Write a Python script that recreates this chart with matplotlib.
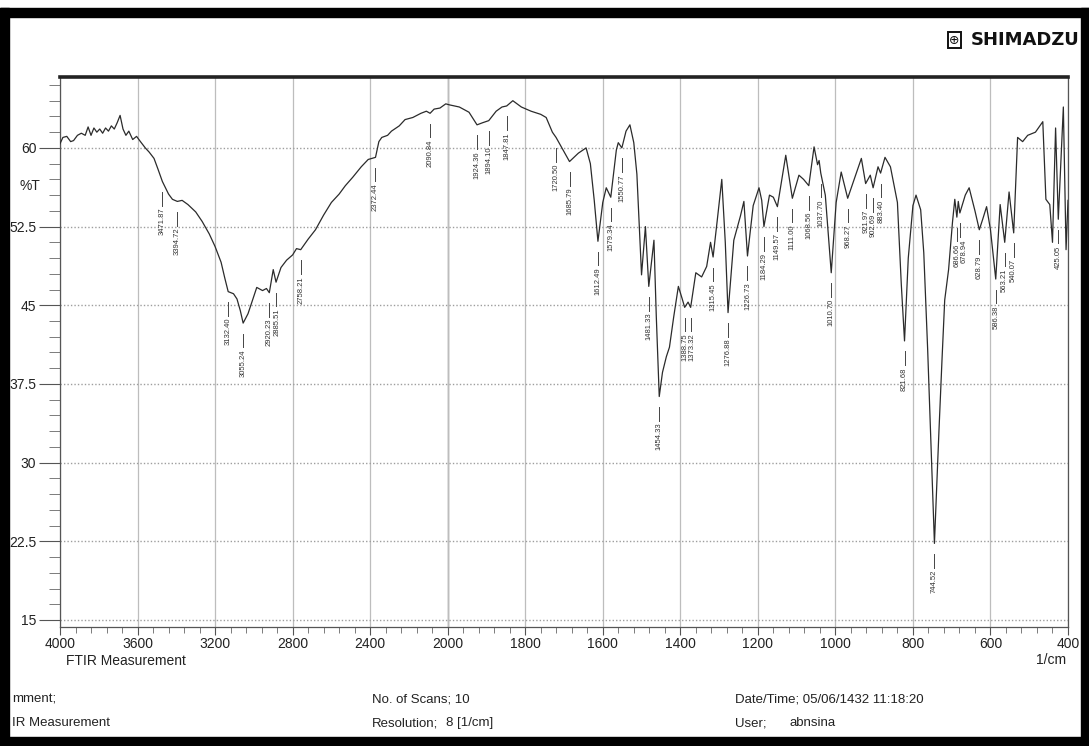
import numpy as np
import matplotlib
matplotlib.use("Agg")
import matplotlib.pyplot as plt
from matplotlib.patches import Rectangle

plt.rcParams["font.family"] = ["Liberation Sans", "DejaVu Sans"]

# spectrum (1/cm, %T)
wavenumber = [4000, 3985, 3965, 3945, 3930, 3910, 3890, 3870, 3855, 3840, 3825, 3810,
              3795, 3780, 3765, 3750, 3735, 3720, 3705, 3690, 3675, 3660, 3645, 3625,
              3605, 3585, 3560, 3540, 3515, 3495, 3471.87, 3440, 3420, 3394.72, 3370,
              3340, 3300, 3267, 3230, 3200, 3169, 3150, 3132.40, 3105, 3087, 3070,
              3055.24, 3030, 3010, 2985, 2955, 2935, 2920.23, 2900, 2885.51, 2860, 2831,
              2800, 2780, 2758.21, 2720, 2682, 2640, 2600, 2560, 2528, 2490, 2446, 2410,
              2372.44, 2355, 2340, 2310, 2290, 2250, 2220, 2180, 2138, 2110, 2090.84,
              2070, 2040, 2010, 1995, 1970, 1945, 1924.36, 1910, 1894.10, 1875, 1860,
              1847.81, 1832, 1810, 1785, 1760, 1746, 1730, 1720.50, 1707, 1695, 1685.79,
              1663, 1643, 1632, 1622, 1612.49, 1600, 1591, 1579.34, 1565, 1560, 1550.77,
              1540, 1530, 1520, 1512, 1500, 1490, 1481.33, 1468, 1462, 1454.33, 1446,
              1436, 1428, 1417, 1405, 1395, 1388.75, 1380, 1373.32, 1360, 1345, 1332,
              1322, 1315.45, 1305, 1293, 1284, 1276.88, 1262, 1245, 1236, 1226.73, 1212,
              1197, 1190, 1184.29, 1170, 1160, 1149.57, 1128, 1111.00, 1094, 1082,
              1068.56, 1055, 1046, 1042, 1037.70, 1026, 1010.70, 998, 985, 968.27, 933,
              921.97, 910, 902.69, 890, 883.40, 872, 858, 840, 830, 821.68, 812, 800,
              792, 780, 772, 762, 744.52, 733, 725, 718, 708, 698, 692, 686.66, 683,
              678.94, 665, 655, 640, 628.79, 620, 610, 600, 586.38, 575, 563.21, 552,
              540.07, 530, 517, 504, 484, 465, 457, 447, 440, 432, 425.05, 412, 405, 400]
transmittance = [60.4, 61.0, 61.1, 60.6, 60.7, 61.2, 61.4, 61.2, 62.0, 61.2, 61.9, 61.5,
                 61.8, 61.4, 61.9, 61.6, 62.1, 61.8, 62.4, 63.1, 61.8, 61.2, 61.6, 60.8,
                 61.1, 60.6, 60.0, 59.6, 59.0, 58.0, 56.8, 55.6, 55.1, 54.9, 55.0,
                 54.6, 53.9, 53.0, 51.8, 50.6, 49.1, 47.6, 46.3, 46.1, 45.6, 44.5,
                 43.3, 44.2, 45.3, 46.7, 46.4, 46.6, 46.2, 48.4, 47.2, 48.6, 49.3,
                 49.8, 50.4, 50.3, 51.3, 52.2, 53.6, 54.8, 55.6, 56.4, 57.2, 58.2, 58.9,
                 59.1, 60.6, 61.0, 61.2, 61.6, 62.1, 62.7, 62.9, 63.3, 63.5, 63.3,
                 63.7, 63.8, 64.2, 64.1, 63.9, 63.4, 62.2, 62.4, 62.6, 63.5, 63.9,
                 64.0, 64.5, 63.9, 63.5, 63.2, 62.9, 61.5, 61.0, 60.1, 59.3, 58.7,
                 59.5, 60.0, 58.5, 55.0, 51.1, 54.8, 56.2, 55.3, 59.8, 60.5, 60.0,
                 61.6, 62.2, 60.5, 57.5, 47.9, 52.5, 46.8, 51.2, 44.0, 36.3, 38.6,
                 40.1, 41.0, 43.9, 46.8, 45.6, 44.8, 45.3, 44.8, 48.1, 47.7, 48.7,
                 51.0, 49.6, 53.0, 57.0, 51.0, 44.3, 51.2, 53.5, 54.9, 49.7, 54.5,
                 56.2, 55.0, 52.5, 55.5, 55.3, 54.4, 59.3, 55.2, 57.4, 57.0,
                 56.4, 60.1, 58.4, 58.8, 57.6, 55.5, 48.1, 54.8, 57.7, 55.2, 59.0,
                 56.6, 57.4, 56.2, 58.2, 57.6, 59.1, 58.2, 54.8, 47.0, 41.6, 49.5, 54.5,
                 55.5, 54.1, 50.0, 40.8, 22.3, 32.9, 39.8, 45.5, 48.4, 52.9, 55.1, 53.4, 54.9,
                 53.8, 55.5, 56.2, 54.0, 52.2, 53.2, 54.4, 52.2, 47.5, 54.6, 51.0, 55.8,
                 51.9, 61.0, 60.6, 61.2, 61.5, 62.5, 55.1, 54.6, 51.0, 61.9, 53.2, 63.9, 50.3, 55.0]

peaks = [3471.87, 3394.72, 3132.40, 3055.24, 2920.23, 2885.51, 2758.21, 2372.44, 2090.84,
         1924.36, 1894.10, 1847.81, 1720.50, 1685.79, 1612.49, 1579.34, 1550.77, 1481.33,
         1454.33, 1388.75, 1373.32, 1315.45, 1276.88, 1226.73, 1184.29, 1149.57, 1111.00,
         1068.56, 1037.70, 1010.70, 968.27, 921.97, 902.69, 883.40, 821.68, 744.52,
         686.66, 678.94, 628.79, 586.38, 563.21, 540.07, 425.05]

x_major = [4000, 3600, 3200, 2800, 2400, 2000, 1800, 1600, 1400, 1200, 1000, 800, 600, 400]
y_major = [15, 22.5, 30, 37.5, 45, 52.5, 60]
y_labels = ["15", "22.5", "30", "37.5", "45", "52.5", "60"]


def fwd(w):
    # above 2000 1/cm the chart is compressed by half
    w = np.asarray(w, dtype=float)
    return np.where(w < 2000, w, 1000 + w / 2)


def inv(u):
    u = np.asarray(u, dtype=float)
    return np.where(u < 2000, u, 2 * (u - 1000))


W, H = 1089, 746
fig = plt.figure(figsize=(W / 100, H / 100), dpi=100)
ax = fig.add_axes([60 / W, 1 - 627 / H, 1008 / W, 550 / H])
ax.set_xscale("function", functions=(fwd, inv))
ax.set_xlim(4000, 400)
ax.set_ylim(14.33, 66.76)

ink = "#2b2b2b"
ax.plot(wavenumber, transmittance, color=ink, lw=0.9, zorder=3)

# peak picks: short tick + rotated number under each minimum
# labels that would sit on top of each other get pushed right a little
wn_asc = np.array(wavenumber)[::-1]
t_asc = np.array(transmittance)[::-1]
px_per_unit = 1008 / 2600
last_px = -100
for p in peaks:
    t = np.interp(p, wn_asc, t_asc)
    px = (3000 - float(fwd(p))) * px_per_unit
    if px - last_px < 7.5:
        px = last_px + 7.5
    last_px = px
    xt = float(inv(3000 - px / px_per_unit))
    ax.plot([p, p], [t - 1.0, t - 2.3], color="#444444", lw=0.7, zorder=3)
    ax.text(xt, t - 2.5, f"{p:.2f}", rotation=90, ha="center", va="top",
            fontsize=5.5, color="#333333", zorder=3)

# axes, ticks, grid
ax.set_xticks(x_major)
ax.set_xticklabels([str(v) for v in x_major])
minor_x = list(np.arange(4000, 2000, -80)) + list(np.arange(2000, 399, -40))
ax.set_xticks(minor_x, minor=True)
ax.set_yticks(y_major)
ax.set_yticklabels(y_labels)
ax.set_yticks(np.arange(15, 66.5, 1.5), minor=True)

ax.tick_params(axis="x", which="major", length=6, width=0.8, color="#555555",
               labelsize=10, labelcolor="#222222", pad=1)
ax.tick_params(axis="x", which="minor", length=4, width=0.6, color="#666666")
ax.tick_params(axis="y", which="major", length=15, width=0.8, color="#555555",
               labelsize=10, labelcolor="#222222", pad=2)
ax.tick_params(axis="y", which="minor", length=8, width=0.6, color="#666666")

ax.grid(axis="x", which="major", color="#bdbdbd", lw=0.9)
ax.grid(axis="y", which="major", color="#9e9e9e", lw=1.0, ls=(0, (1, 1.5)))
ax.axvline(2000, color="#808080", lw=1.0, zorder=1)

for side in ["left", "right", "bottom"]:
    ax.spines[side].set_color("#555555")
    ax.spines[side].set_linewidth(0.9)
ax.spines["top"].set_color("#222222")
ax.spines["top"].set_linewidth(2.6)

fig.text(20 / W, 1 - 186 / H, "%T", fontsize=10, color="#222222", va="center")
fig.text(66 / W, 1 - 661 / H, "FTIR Measurement", fontsize=10, color="#222222", va="center")
fig.text(1066 / W, 1 - 660 / H, "1/cm", fontsize=10, color="#222222", va="center", ha="right")

# footer block
foot = dict(fontsize=9.5, color="#222222", va="center")
fig.text(12 / W, 1 - 700 / H, "mment;", **foot)
fig.text(12 / W, 1 - 723 / H, "IR Measurement", **foot)
fig.text(372 / W, 1 - 700 / H, "No. of Scans; 10", **foot)
fig.text(372 / W, 1 - 723 / H, "Resolution;", **foot)
fig.text(446 / W, 1 - 723 / H, "8 [1/cm]", **foot)
fig.text(735 / W, 1 - 700 / H, "Date/Time; 05/06/1432 11:18:20", **foot)
fig.text(735 / W, 1 - 723 / H, "User;", **foot)
fig.text(790 / W, 1 - 723 / H, "abnsina", **foot)

# maker logo
fig.text(1080 / W, 1 - 40 / H, "SHIMADZU", fontsize=13, weight="bold",
         family=["DejaVu Sans"], color="#111111", ha="right", va="center")
fig.text(954 / W, 1 - 40 / H, "\u2295", fontsize=9, color="#111111", ha="center", va="center",
         family=["DejaVu Sans"],
         bbox=dict(boxstyle="square,pad=0.1", fc="white", ec="#111111", lw=1.4))

# black scan border
for (x0, y0, w, h) in [(0, 8, W, 9), (0, 8, 9, H), (W - 8, 8, 8, H), (0, H - 9, W, 9)]:
    fig.patches.append(Rectangle((x0 / W, 1 - (y0 + h) / H), w / W, h / H,
                                 transform=fig.transFigure, color="black", zorder=10))

fig.savefig("out.png", dpi=100, facecolor="white")
